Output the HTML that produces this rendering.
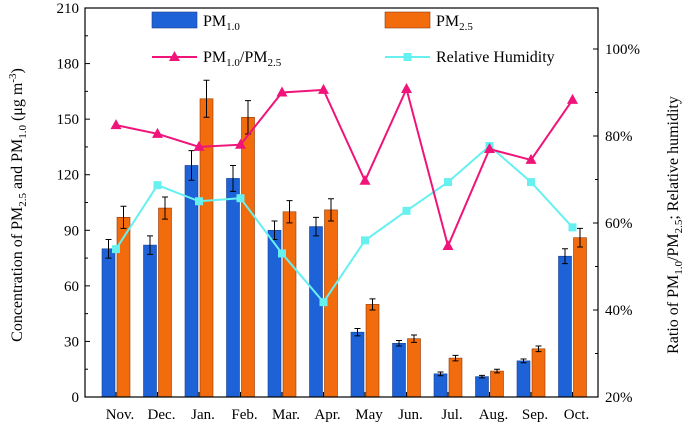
<!DOCTYPE html>
<html><head><meta charset="utf-8"><style>
body{margin:0;background:#fff;}
svg{display:block;font-family:"Liberation Serif",serif;}
</style></head><body>
<svg id="chart" width="685" height="429" viewBox="0 0 685 429" xmlns="http://www.w3.org/2000/svg"></svg>
<script>
const categories=["Nov.","Dec.","Jan.","Feb.","Mar.","Apr.","May","Jun.","Jul.","Aug.","Sep.","Oct."];
const pm10=[80,82,125,118,90,92,35,29,12.5,11,19.5,76];
const pm10Err=[5,5,8,7,5,5,2,1.5,1,0.7,1,4];
const pm25=[97,102,161,151,100,101,50,31.5,21,14,26,86];
const pm25Err=[6,6,10,9,6,6,3,2,1.5,1,1.5,5];
const ratio=[82.5,80.5,77.5,78,90,90.6,69.7,90.8,54.7,77,74.5,88.3];
const humidity=[54,68.7,65,65.7,53,41.8,56,62.8,69.4,77.7,69.4,59];
const leftTicks=[0,30,60,90,120,150,180,210];
const rightTicks=[20,40,60,80,100];

const svg=document.getElementById('chart');
const NS='http://www.w3.org/2000/svg';
const X0=85,X1=598,YB=397,YT=8;
const xc=i=>116+i*41.5;
const yL=v=>YB-(v/210)*(YB-YT);
const yR=v=>YB-((v-20)/80)*(YB-49);
function mk(tag,attrs,parent){const e=document.createElementNS(NS,tag);for(const k in attrs)e.setAttribute(k,attrs[k]);(parent||svg).appendChild(e);return e;}

// bars
const bw=13;
pm10.forEach((v,i)=>{
  const r=mk('rect',{x:xc(i)-bw-1,y:yL(v),width:bw,height:YB-yL(v),fill:'#1e62d8',stroke:'#1a3f8f','stroke-width':0.6});
  
  
  const cx=xc(i)-bw/2-1;
  const e=mk('path',{d:`M${cx},${yL(v+pm10Err[i])}V${yL(v-pm10Err[i])}M${cx-3},${yL(v+pm10Err[i])}h6M${cx-3},${yL(v-pm10Err[i])}h6`,stroke:'#000','stroke-width':1,fill:'none'});
  
  
});
pm25.forEach((v,i)=>{
  const r=mk('rect',{x:xc(i)+1,y:yL(v),width:bw,height:YB-yL(v),fill:'#f26b0c',stroke:'#8f3a05','stroke-width':0.6});
  
  
  const cx=xc(i)+bw/2+1;
  const e=mk('path',{d:`M${cx},${yL(v+pm25Err[i])}V${yL(v-pm25Err[i])}M${cx-3},${yL(v+pm25Err[i])}h6M${cx-3},${yL(v-pm25Err[i])}h6`,stroke:'#000','stroke-width':1,fill:'none'});
  
  
});

// lines
const hl=mk('polyline',{points:humidity.map((v,i)=>xc(i)+','+yR(v)).join(' '),fill:'none',stroke:'#66f0f0','stroke-width':2});

humidity.forEach((v,i)=>{const m=mk('rect',{x:xc(i)-4,y:yR(v)-4,width:8,height:8,fill:'#66f0f0'});
  });
const rl=mk('polyline',{points:ratio.map((v,i)=>xc(i)+','+yR(v)).join(' '),fill:'none',stroke:'#f0147a','stroke-width':2});

ratio.forEach((v,i)=>{const x=xc(i),y=yR(v);const m=mk('polygon',{points:`${x},${y-6} ${x-5.5},${y+4} ${x+5.5},${y+4}`,fill:'#f0147a'});
  });

// frame
const fr=mk('rect',{x:X0,y:YT,width:X1-X0,height:YB-YT,fill:'none',stroke:'#000','stroke-width':1.2});


// left ticks
leftTicks.forEach(v=>{const y=yL(v);
  mk('line',{x1:X0,x2:X0+5,y1:y,y2:y,stroke:'#000'});
  if(v<210){mk('line',{x1:X0,x2:X0+3,y1:yL(v+15),y2:yL(v+15),stroke:'#000'});}
  const t=mk('text',{x:X0-6,y:y+5,'text-anchor':'end','font-size':15});t.textContent=v;
  });
rightTicks.forEach(v=>{const y=yR(v);
  mk('line',{x1:X1,x2:X1-5,y1:y,y2:y,stroke:'#000'});
  if(v<100)mk('line',{x1:X1,x2:X1-3,y1:yR(v+10),y2:yR(v+10),stroke:'#000'});
  const t=mk('text',{x:X1+7,y:y+5,'font-size':15});t.textContent=v+'%';
  });
categories.forEach((c,i)=>{
  mk('line',{x1:xc(i),x2:xc(i),y1:YB,y2:YB-5,stroke:'#000'});
  const t=mk('text',{x:xc(i)+4,y:YB+22,'text-anchor':'middle','font-size':15});t.textContent=c;
  });
</script>
<svg style="position:absolute;left:0;top:0" width="685" height="429" font-family="Liberation Serif, serif">
  <g>
    <text transform="translate(22,205) rotate(-90)" text-anchor="middle" font-size="16">Concentration of PM<tspan font-size="11" dy="4">2.5</tspan><tspan dy="-4"> and PM</tspan><tspan font-size="11" dy="4">1.0</tspan><tspan dy="-4"> (μg m</tspan><tspan font-size="11" dy="-6">-3</tspan><tspan dy="6">)</tspan></text>
  </g>
  <g>
    <text transform="translate(678,225) rotate(-90)" text-anchor="middle" font-size="16">Ratio of PM<tspan font-size="11" dy="4">1.0</tspan><tspan dy="-4">/PM</tspan><tspan font-size="11" dy="4">2.5</tspan><tspan dy="-4">; Relative humidity</tspan></text>
  </g>
  <g>
    <rect x="152" y="12" width="45" height="16" fill="#1e62d8" stroke="#1a3f8f" stroke-width="0.6"/>
    <text x="203" y="26" font-size="16">PM<tspan font-size="11" dy="4">1.0</tspan></text>
    <rect x="385" y="12" width="45" height="16" fill="#f26b0c" stroke="#8f3a05" stroke-width="0.6"/>
    <text x="436" y="26" font-size="16">PM<tspan font-size="11" dy="4">2.5</tspan></text>
    <line x1="152" x2="197" y1="57" y2="57" stroke="#f0147a" stroke-width="2"/>
    <polygon points="174.5,51 169,61 180,61" fill="#f0147a"/>
    <text x="203" y="62" font-size="16">PM<tspan font-size="11" dy="4">1.0</tspan><tspan dy="-4">/PM</tspan><tspan font-size="11" dy="4">2.5</tspan></text>
    <line x1="385" x2="430" y1="57" y2="57" stroke="#66f0f0" stroke-width="2"/>
    <rect x="403.5" y="53" width="8" height="8" fill="#66f0f0"/>
    <text x="436" y="62" font-size="16">Relative Humidity</text>
  </g>
</svg>
</body></html>
